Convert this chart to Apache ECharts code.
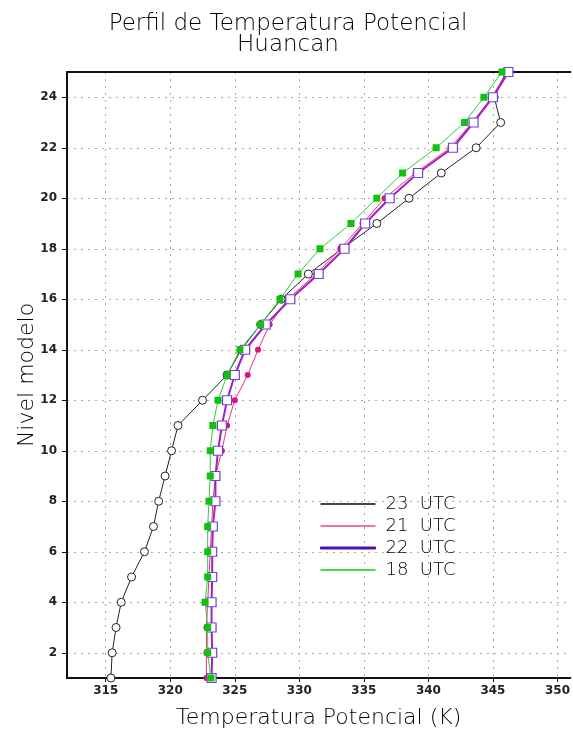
<!DOCTYPE html>
<html>
<head>
<meta charset="utf-8">
<script src="https://cdn.jsdelivr.net/npm/echarts@6/dist/echarts.min.js"></script>
<style>html,body{margin:0;padding:0;background:#fff;}#c{width:573px;height:738px;}</style>
</head>
<body>
<div id="c"></div>
<script>
var levels = [1,2,3,4,5,6,7,8,9,10,11,12,13,14,15,16,17,18,19,20,21,22,23,24,25];
var t23 = [315.4,315.5,315.8,316.2,317.0,318.0,318.7,319.1,319.6,320.1,320.6,322.5,324.4,325.5,327.0,328.6,330.7,333.3,336.0,338.5,341.0,343.7,345.6,345.1,346.0];
var t21 = [322.8,322.8,322.8,322.9,323.0,323.1,323.2,323.3,323.5,324.0,324.4,325.0,326.0,326.8,327.7,329.1,331.3,333.2,334.9,336.6,339.0,341.7,343.4,344.9,346.1];
var t22 = [323.2,323.25,323.2,323.2,323.25,323.25,323.3,323.5,323.5,323.7,324.0,324.4,325.0,325.8,327.4,329.3,331.5,333.5,335.1,337.0,339.2,341.9,343.5,345.0,346.2];
var t18 = [323.15,322.9,322.9,322.7,322.9,322.9,322.9,323.0,323.1,323.1,323.3,323.7,324.4,325.4,327.0,328.5,329.9,331.6,334.0,336.0,338.0,340.6,342.8,344.3,345.7];
var seriesNames = ['23  UTC','21  UTC','22  UTC','18  UTC'];
var xTicks = [315,320,325,330,335,340,345,350];
var yTicks = [2,4,6,8,10,12,14,16,18,20,22,24];

function pairs(t){ return t.map(function(v,i){ return [v, levels[i]]; }); }

var chart = echarts.init(document.getElementById('c'), null, {renderer:'canvas'});
var font = 'DejaVu Sans';
var thin = 200;
chart.setOption({
  animation:false,
  backgroundColor:'#fff',
  title:{
    text:'Perfil de Temperatura Potencial\nHuancan',
    left:283, top:9, textAlign:'center',
    textStyle:{fontFamily:font, fontWeight:thin, fontSize:23, lineHeight:21, color:'#000'}
  },
  grid:{left:67, top:72, width:507, bottom:60, show:false, containLabel:false},
  legend:{
    orient:'vertical', left:320, top:495, padding:0, itemWidth:55, itemHeight:2, itemGap:4, icon:'rect',
    data:[
      {name:seriesNames[0], itemStyle:{color:'#444', borderWidth:0}},
      {name:seriesNames[1], itemStyle:{color:'#f07890', borderWidth:0}},
      {name:seriesNames[2], itemStyle:{color:'#5010b0', borderColor:'#5010b0', borderWidth:1}},
      {name:seriesNames[3], itemStyle:{color:'#44dd44', borderWidth:0}}
    ],
    textStyle:{fontFamily:font, fontWeight:thin, fontSize:18, color:'#000', padding:[0,0,0,5]}
  },
  xAxis:[{
    type:'value', min:312, max:351,
    name:'Temperatura Potencial (K)', nameLocation:'middle', nameGap:29,
    nameTextStyle:{fontFamily:font, fontWeight:thin, fontSize:22, color:'#000'},
    axisLine:{show:true, lineStyle:{color:'#111', width:2}},
    axisTick:{show:true, customValues:xTicks, length:4, lineStyle:{color:'#111'}},
    axisLabel:{customValues:xTicks, fontFamily:font, fontWeight:'bold', fontSize:12, color:'#222', margin:7},
    splitLine:{show:true, lineStyle:{color:'#aaa', type:[2,5], width:1}}
  },{
    type:'value', min:312, max:351, position:'top',
    axisLine:{show:true, lineStyle:{color:'#111', width:2}},
    axisTick:{show:false}, axisLabel:{show:false}, splitLine:{show:false}
  }],
  yAxis:{
    type:'value', min:1, max:25,
    name:'Nivel modelo', nameLocation:'middle', nameGap:29, nameMoveOverlap:false,
    nameTextStyle:{fontFamily:font, fontWeight:thin, fontSize:22, color:'#000'},
    axisLine:{show:true, lineStyle:{color:'#111', width:2}},
    axisTick:{show:true, customValues:yTicks, length:5, lineStyle:{color:'#111'}},
    axisLabel:{customValues:yTicks, fontFamily:font, fontWeight:'bold', fontSize:12, color:'#222', margin:10},
    splitLine:{show:true, lineStyle:{color:'#aaa', type:[2,5], width:1}}
  },
  series:[
    {name:seriesNames[0], type:'line', data:pairs(t23), z:2, color:'#222',
     lineStyle:{color:'#222', width:1}, symbol:'circle', symbolSize:8,
     itemStyle:{color:'#fff', borderColor:'#222', borderWidth:1}},
    {name:seriesNames[1], type:'line', data:pairs(t21), z:3, color:'#f06a8a',
     lineStyle:{color:'#ee3377', width:1}, symbol:'circle', symbolSize:6,
     itemStyle:{color:'#e0107a', borderColor:'#e0107a', borderWidth:0}},
    {name:seriesNames[2], type:'line', data:pairs(t22), z:4, color:'#6a10b8',
     lineStyle:{color:'#a020c8', width:2}, symbol:'rect', symbolSize:9,
     itemStyle:{color:'#fff', borderColor:'#7040d8', borderWidth:1.2}},
    {name:seriesNames[3], type:'line', data:pairs(t18), z:5, color:'#44dd44',
     lineStyle:{color:'#33cc33', width:1}, symbol:'rect', symbolSize:7,
     itemStyle:{color:'#11c011', borderColor:'#11c011', borderWidth:0}}
  ]
});
</script>
</body>
</html>
